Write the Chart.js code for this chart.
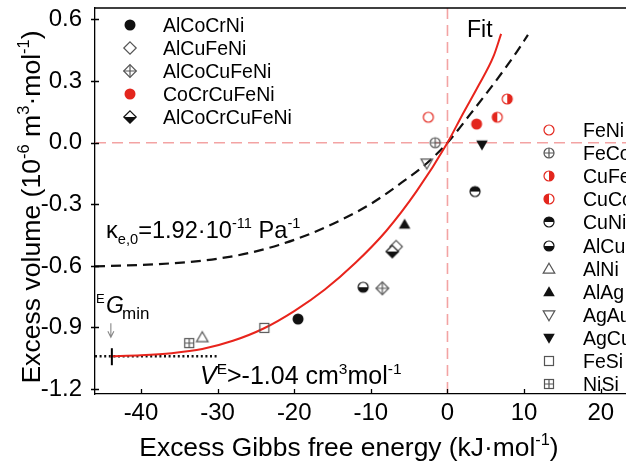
<!DOCTYPE html>
<html><head><meta charset="utf-8">
<script src="https://cdn.jsdelivr.net/npm/chart.js@4.4.1/dist/chart.umd.min.js"></script>
<style>html,body{margin:0;padding:0;overflow:hidden;background:#fff}#wrap{width:720px;height:464px}</style>
</head><body><div id="wrap"><canvas id="c" width="720" height="464"></canvas></div>
<script>
// ---------- data ----------
const xTicks = [-40, -30, -20, -10, 0, 10, 20, 30];
const yTicks = [-1.2, -0.9, -0.6, -0.3, 0.0, 0.3, 0.6];
const systems = ['AlCoCrNi','AlCuFeNi','AlCoCuFeNi','CoCrCuFeNi','AlCoCrCuFeNi',
                 'FeNi','FeCo','CuFe','CuCo','CuNi','AlCu','AlNi','AlAg','AgAu','AgCu','FeSi','NiSi'];
const gibbs  = [-19.5, -6.7, -8.5, 3.8, -7.2, -2.5, -1.6, 7.8, 6.5, 3.6, -11.0, -32.0, -5.6, -2.7, 4.5, -23.9, -33.7];
const volume = [-0.859, -0.506, -0.709, 0.091, -0.530, 0.124, 0.0, 0.213, 0.124, -0.238, -0.704, -0.949, -0.398, -0.100, -0.010, -0.902, -0.976];
const fitX = [-44, -40, -36, -32, -28, -24, -20, -16, -12, -8, -4, 0, 2, 4, 6, 7];
const fitY = [-1.040, -1.035, -1.025, -1.005, -0.965, -0.905, -0.820, -0.715, -0.585, -0.430, -0.235, 0.0, 0.140, 0.275, 0.420, 0.530];
const kapX = [-46, -42, -38, -34, -30, -26, -22, -18, -14, -10, -6, -3, 0, 3, 6, 9, 10.5];
const kapY = [-0.602, -0.598, -0.592, -0.582, -0.565, -0.538, -0.498, -0.445, -0.378, -0.298, -0.195, -0.110, 0.0, 0.140, 0.285, 0.440, 0.525];
const vEmin = -1.04;      // lower bound of excess volume
const eGmin = -43.8;      // minimum excess Gibbs energy
const boundX = [-46, -30]; // dotted bound line extent
const xRange = [-46, 34];
const yRange = [-1.224, 0.656];

// ---------- markers ----------
const RED = '#e3261d', GRAY = '#555', BLK = '#111';
function mk(draw, size) { size = size || 16; const c = document.createElement('canvas'); c.width = size; c.height = size;
  const g = c.getContext('2d'); g.translate(size/2, size/2); g.lineWidth = 1.2; draw(g); return c; }
function circ(g, r) { g.beginPath(); g.arc(0, 0, r, 0, Math.PI*2); }
function diam(g, r) { g.beginPath(); g.moveTo(0,-r); g.lineTo(r,0); g.lineTo(0,r); g.lineTo(-r,0); g.closePath(); }
const M = {
  fillC: col => mk(g => { circ(g, 5.5); g.fillStyle = col; g.fill(); }),
  openC: col => mk(g => { circ(g, 5.0); g.strokeStyle = col; g.stroke(); }),
  halfC: (col, side) => mk(g => { circ(g, 5.0); g.fillStyle = '#fff'; g.fill();
      const a = {right:[-Math.PI/2, Math.PI/2], left:[Math.PI/2, Math.PI*1.5], top:[Math.PI, Math.PI*2], bottom:[0, Math.PI]}[side];
      g.beginPath(); g.arc(0,0,5.0,a[0],a[1]); g.closePath(); g.fillStyle = col; g.fill();
      circ(g, 5.0); g.strokeStyle = col; g.stroke(); }),
  crossC: col => mk(g => { circ(g, 5.0); g.strokeStyle = col; g.stroke(); g.beginPath();
      g.moveTo(-5,0); g.lineTo(5,0); g.moveTo(0,-5); g.lineTo(0,5); g.stroke(); }),
  openD: col => mk(g => { diam(g, 6.2); g.strokeStyle = col; g.stroke(); }),
  crossD: col => mk(g => { diam(g, 6.3); g.strokeStyle = col; g.stroke(); g.beginPath();
      g.moveTo(-6.3,0); g.lineTo(6.3,0); g.moveTo(0,-6.3); g.lineTo(0,6.3); g.stroke(); }),
  halfD: col => mk(g => { diam(g, 6.2); g.fillStyle = '#fff'; g.fill(); g.beginPath(); g.moveTo(-6.2,0); g.lineTo(6.2,0); g.lineTo(0,6.2); g.closePath();
      g.fillStyle = col; g.fill(); diam(g, 6.2); g.strokeStyle = col; g.stroke(); }),
  tri: (col, up, filled) => mk(g => { const s = up ? 1 : -1; g.beginPath(); g.moveTo(0,-5.8*s); g.lineTo(5.8,4.2*s); g.lineTo(-5.8,4.2*s); g.closePath();
      if (filled) { g.fillStyle = col; g.fill(); } else { g.strokeStyle = col; g.stroke(); } }),
  sq: col => mk(g => { g.strokeStyle = col; g.strokeRect(-4.5,-4.5,9,9); }),
  sqPlus: col => mk(g => { g.strokeStyle = col; g.strokeRect(-4.5,-4.5,9,9); g.beginPath();
      g.moveTo(-4.5,0); g.lineTo(4.5,0); g.moveTo(0,-4.5); g.lineTo(0,4.5); g.stroke(); })
};
const markers = [
  M.fillC(BLK), M.openD(GRAY), M.crossD(GRAY), M.fillC(RED), M.halfD(BLK),
  M.openC(RED), M.crossC(GRAY), M.halfC(RED,'right'), M.halfC(RED,'left'), M.halfC(BLK,'top'), M.halfC(BLK,'bottom'),
  M.tri(GRAY,true,false), M.tri(BLK,true,true), M.tri(GRAY,false,false), M.tri(BLK,false,true), M.sq(GRAY), M.sqPlus(GRAY)
];

// ---------- text helper ----------
const FAM = '"Liberation Sans", Arial, sans-serif';
function rich(ctx, x, y, segs, size, align) {
  const parts = segs.map(([t, k]) => {
    const small = (k === 'sup' || k === 'sub');
    const s = small ? size * 0.62 : size;
    const f = (k === 'i' ? 'italic ' : '') + s + 'px ' + FAM;
    ctx.font = f;
    return { t, f, w: ctx.measureText(t).width, dy: k === 'sup' ? -size * 0.42 : (k === 'sub' ? size * 0.24 : 0) };
  });
  const total = parts.reduce((a, p) => a + p.w, 0);
  let cx = align === 'center' ? x - total / 2 : x;
  ctx.textAlign = 'left'; ctx.textBaseline = 'alphabetic';
  for (const p of parts) { ctx.font = p.f; ctx.fillText(p.t, cx, y + p.dy); cx += p.w; }
}

// ---------- plugin ----------
const deco = {
  id: 'deco',
  beforeDatasetsDraw(chart) {
    const { ctx, chartArea: a, scales: { x, y } } = chart;
    ctx.save();
    ctx.strokeStyle = '#f3a3a3'; ctx.lineWidth = 1.6; ctx.setLineDash([11, 6]);
    const y0 = y.getPixelForValue(0), x0 = x.getPixelForValue(0);
    ctx.beginPath(); ctx.moveTo(a.left, y0); ctx.lineTo(a.right, y0); ctx.stroke();
    ctx.beginPath(); ctx.moveTo(x0, a.top); ctx.lineTo(x0, a.bottom); ctx.stroke();
    ctx.restore();
  },
  afterDraw(chart) {
    const { ctx, chartArea: a, scales: { x, y } } = chart;
    ctx.save();
    // frame top/right
    ctx.strokeStyle = '#000'; ctx.lineWidth = 1.3;
    ctx.beginPath(); ctx.moveTo(a.left, a.top); ctx.lineTo(a.right, a.top); ctx.lineTo(a.right, a.bottom); ctx.stroke();
    // ticks
    ctx.beginPath();
    xTicks.forEach(v => { const px = Math.round(x.getPixelForValue(v)) + 0.5; ctx.moveTo(px, a.bottom); ctx.lineTo(px, a.bottom - 5); });
    yTicks.forEach(v => { const py = Math.round(y.getPixelForValue(v)) + 0.5; ctx.moveTo(a.left - 4, py); ctx.lineTo(a.left + 4, py); });
    ctx.stroke();
    // EGmin marker bar and arrow
    const gx = x.getPixelForValue(eGmin), vy = y.getPixelForValue(vEmin);
    ctx.lineWidth = 2; ctx.beginPath(); ctx.moveTo(gx, vy - 8); ctx.lineTo(gx, vy + 9); ctx.stroke();
    ctx.strokeStyle = '#888'; ctx.lineWidth = 1.1; ctx.beginPath();
    ctx.moveTo(gx - 1, vy - 33); ctx.lineTo(gx - 1, vy - 20); ctx.moveTo(gx - 4, vy - 25); ctx.lineTo(gx - 1, vy - 19); ctx.lineTo(gx + 2, vy - 25); ctx.stroke();
    // texts
    ctx.fillStyle = '#000';
    rich(ctx, 467, 37, [['Fit','']], 23);
    rich(ctx, 106, 238, [['κ',''],['e,0','sub'],['=1.92·10',''],['-11','sup'],[' Pa',''],['-1','sup']], 23.6);
    rich(ctx, 96, 303, [['E','']], 13);
    rich(ctx, 106, 313, [['G','i']], 23);
    rich(ctx, 122, 319, [['min','']], 17);
    rich(ctx, 200, 384, [['V','i'],['E','sup'],['>-1.04 cm',''],['3','sup'],['mol',''],['-1','sup']], 25);
    // axis titles
    rich(ctx, 349, 456, [['Excess Gibbs free energy (kJ·mol',''],['-1','sup'],[')','']], 26.4, 'center');
    ctx.save(); ctx.translate(40, 207); ctx.rotate(-Math.PI / 2);
    rich(ctx, 0, 0, [['Excess volume (10',''],['-6','sup'],[' m',''],['3','sup'],['·mol',''],['-1','sup'],[')','']], 26.6, 'center');
    ctx.restore();
    // legends
    const drawLeg = (idx, mx, tx, y0, dy) => idx.forEach((k, i) => {
      const yy = y0 + i * dy; const m = markers[k];
      ctx.drawImage(m, Math.round(mx - m.width / 2), Math.round(yy - m.height / 2));
      ctx.font = '19.5px ' + FAM; ctx.textAlign = 'left'; ctx.textBaseline = 'alphabetic'; ctx.fillStyle = '#000';
      ctx.fillText(systems[k], tx, yy + 7);
    });
    drawLeg([0,1,2,3,4], 130, 163, 25, 23.1);
    drawLeg([5,6,7,8,9,10,11,12,13,14,15,16], 549, 583, 130, 23.1);
    ctx.restore();
  }
};

const pts = gibbs.map((g, i) => ({ x: g, y: volume[i] }));
new Chart(document.getElementById('c'), {
  type: 'scatter',
  data: { datasets: [
    { label: 'systems', data: pts, pointStyle: markers, pointRadius: 6, showLine: false },
    { label: 'Fit', data: fitX.map((v, i) => ({ x: v, y: fitY[i] })), showLine: true, borderColor: '#e8241c', borderWidth: 2, pointRadius: 0, cubicInterpolationMode: 'monotone' },
    { label: 'kappa', data: kapX.map((v, i) => ({ x: v, y: kapY[i] })), showLine: true, borderColor: '#111', borderWidth: 2.2, borderDash: [10, 6], pointRadius: 0, cubicInterpolationMode: 'monotone' },
    { label: 'bound', data: boundX.map(v => ({ x: v, y: vEmin })), showLine: true, borderColor: '#111', borderWidth: 2.6, borderDash: [2, 2.6], pointRadius: 0 }
  ] },
  options: {
    responsive: false, animation: false, events: [],
    layout: { padding: { top: 8, right: 12, left: 0, bottom: 0 } },
    plugins: { legend: { display: false }, tooltip: { enabled: false } },
    scales: {
      x: { type: 'linear', min: xRange[0], max: xRange[1],
        afterBuildTicks: s => { s.ticks = xTicks.map(v => ({ value: v })); },
        afterFit: s => { s.height = 70; s.paddingLeft = 0; s.paddingRight = 0; s.paddingTop = 0; s.paddingBottom = 0; },
        grid: { display: false, drawTicks: false }, border: { display: true, color: '#000', width: 1.3 },
        ticks: { color: '#000', font: { family: FAM, size: 24 }, padding: 5, maxRotation: 0, callback: v => String(v) } },
      y: { type: 'linear', min: yRange[0], max: yRange[1],
        afterBuildTicks: s => { s.ticks = yTicks.map(v => ({ value: v })); },
        afterFit: s => { s.width = 95; s.paddingTop = 0; s.paddingBottom = 0; s.paddingLeft = 0; s.paddingRight = 0; },
        grid: { display: false, drawTicks: false }, border: { display: true, color: '#000', width: 1.3 },
        ticks: { color: '#000', font: { family: FAM, size: 24 }, padding: 13, callback: v => Number(v).toFixed(1) } }
    }
  },
  plugins: [deco]
});
</script></body></html>
